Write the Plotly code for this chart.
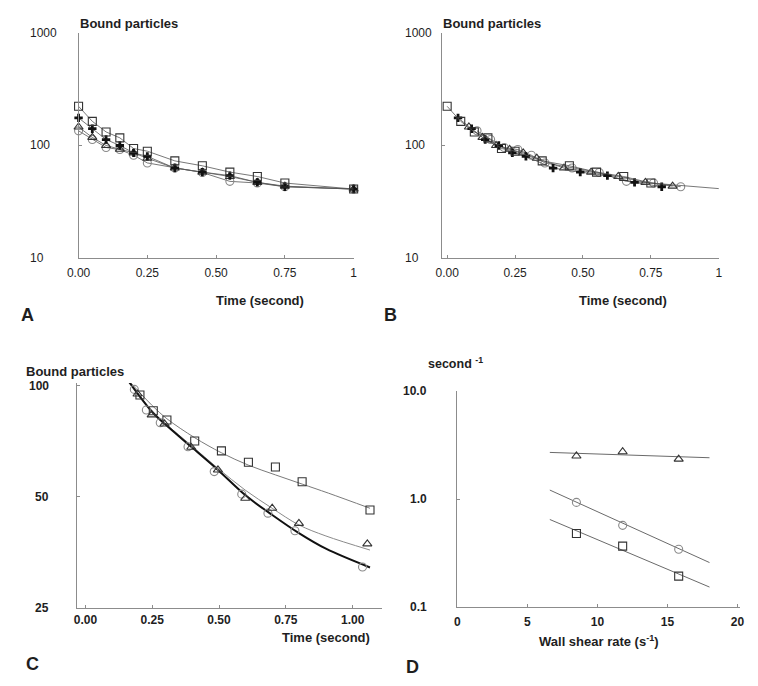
import math
import plotly.graph_objects as go

# ---------------- data ----------------
# Panel A: bound particles vs time (four shear conditions)
a_time = [0.00, 0.05, 0.10, 0.15, 0.20, 0.25, 0.35, 0.45, 0.55, 0.65, 0.75, 1.00]
a_square = [223, 164, 132, 117, 94, 89, 73, 66, 58, 53, 46.4, 41]
a_plus = [176, 141, 113, 100, 86, 80, 63, 58, 54, 47, 43, 41]
a_triangle = [146, 118, 100, 92.5, 86, 77, 63, 58, 53, 47, 43.5, 41]
a_circle = [135, 113, 96, 92, 82, 70, 63, 57.5, 48, 46.4, 43, 41]

# Panel B: time-shifted superposition
b_sq_time = [0.00, 0.05, 0.10, 0.15, 0.20, 0.25, 0.35, 0.45, 0.55, 0.65, 0.75, 1.02]
b_square = [223, 164, 132, 117, 94, 89, 73, 66, 58, 53, 46.4, 41]
b_pl_time = [0.04, 0.09, 0.14, 0.19, 0.24, 0.29, 0.39, 0.49, 0.59, 0.69, 0.79]
b_plus = [176, 141, 113, 100, 86, 80, 63, 58, 54, 47, 43]
b_tr_time = [0.08, 0.13, 0.18, 0.23, 0.28, 0.33, 0.43, 0.53, 0.63, 0.73, 0.83]
b_triangle = [146, 118, 100, 92.5, 86, 77, 63, 58, 53, 47, 43.5]
b_ci_time = [0.11, 0.16, 0.21, 0.26, 0.31, 0.36, 0.46, 0.56, 0.66, 0.76, 0.86]
b_circle = [135, 113, 96, 92, 82, 70, 63, 57.5, 48, 46.4, 43]

# Panel C: measured points and fitted curves
c_sq_time = [0.152, 0.204, 0.254, 0.305, 0.409, 0.509, 0.610, 0.711, 0.811, 1.065]
c_square = [105.3, 94.5, 85.7, 80.9, 70.9, 66.7, 62.1, 60.3, 55.0, 46.1]
c_tr_time = [0.152, 0.195, 0.248, 0.296, 0.396, 0.496, 0.598, 0.699, 0.799, 1.055]
c_triangle = [105.3, 95.1, 83.5, 78.9, 68.2, 59.2, 49.6, 46.6, 42.4, 37.3]
c_ci_time = [0.183, 0.228, 0.280, 0.384, 0.482, 0.585, 0.683, 0.784, 1.037]
c_circle = [97.9, 86.1, 79.5, 68.4, 58.6, 50.9, 45.2, 40.5, 32.3]
c_fit_sq_time = [0.152, 0.250, 0.305, 0.409, 0.509, 0.610, 0.711, 0.811, 0.910, 1.065]
c_fit_square = [105.3, 88.5, 81.5, 72.4, 65.9, 61.0, 57.4, 54.2, 51.2, 46.6]
c_fit_time = [0.152, 0.250, 0.305, 0.396, 0.496, 0.598, 0.699, 0.799, 0.900, 1.065]
c_fit_triangle = [105.3, 85.5, 78.5, 69.0, 59.8, 52.2, 46.6, 42.0, 39.2, 35.9]
c_fit_circle = [105.3, 85.0, 78.0, 68.4, 59.2, 50.6, 44.7, 39.9, 36.2, 32.2]

# Panel D: rate constants vs wall shear rate
d_shear = [8.5, 11.8, 15.8]
d_triangle = [2.5, 2.74, 2.34]
d_circle = [0.93, 0.57, 0.343]
d_square = [0.48, 0.366, 0.193]
d_fit_shear = [6.6, 18.0]
d_fit_triangle = [2.70, 2.41]
d_fit_circle = [1.21, 0.258]
d_fit_square = [0.646, 0.153]

# tick labels
ab_time_ticks = [0, 0.25, 0.5, 0.75, 1]
ab_time_text = ["0.00", "0.25", "0.50", "0.75", "1"]
ab_y_ticks = [1000, 100, 10]
c_time_ticks = [0, 0.25, 0.5, 0.75, 1.0]
c_time_text = ["0.00", "0.25", "0.50", "0.75", "1.00"]
c_y_ticks = [100, 50, 25]
d_x_ticks = [0, 5, 10, 15, 20]
d_y_ticks = [10, 1, 0.1]
d_y_text = ["10.0", "1.0", "0.1"]

# ---------------- styling ----------------
FONT = "Arial, Liberation Sans, sans-serif"
TXT = "#1e1e1e"
AXC = "#8c8c8c"
W, H = 758, 686
TICK = 12


def px(x):
    return x / W


def py(y):
    return 1 - y / H


fig = go.Figure()

MK = {
    "sq": dict(symbol="square-open", size=8, color="#333333", line=dict(width=1.1)),
    "pl": dict(symbol="cross", size=7, color="#111111", line=dict(width=0)),
    "tr": dict(symbol="triangle-up-open", size=8, color="#333333", line=dict(width=1.1)),
    "ci": dict(symbol="circle-open", size=8, color="#8a8a8a", line=dict(width=1.1)),
}


def add(x, y, mk, xa, ya, mode="lines+markers", lc="#555555", lw=0.8):
    fig.add_trace(go.Scatter(
        x=x, y=y, mode=mode, xaxis=xa, yaxis=ya,
        marker=MK[mk] if mk else None,
        line=dict(color=lc, width=lw),
        cliponaxis=False, hoverinfo="skip", showlegend=False))


# A
add(a_time, a_circle, "ci", "x", "y")
add(a_time, a_triangle, "tr", "x", "y")
add(a_time, a_plus, "pl", "x", "y")
add(a_time, a_square, "sq", "x", "y")
# B
add(b_ci_time, b_circle, "ci", "x2", "y2")
add(b_tr_time, b_triangle, "tr", "x2", "y2")
add(b_pl_time, b_plus, "pl", "x2", "y2")
add(b_sq_time, b_square, "sq", "x2", "y2")
# C fits
add(c_fit_sq_time, c_fit_square, None, "x3", "y3", mode="lines", lc="#7a7a7a", lw=1)
add(c_fit_time, c_fit_triangle, None, "x3", "y3", mode="lines", lc="#8a8a8a", lw=1)
add(c_fit_time, c_fit_circle, None, "x3", "y3", mode="lines", lc="#111111", lw=2)
for tr in fig.data[-3:]:
    tr.line.shape = "spline"
# C points
add(c_ci_time, c_circle, "ci", "x3", "y3", mode="markers")
add(c_tr_time, c_triangle, "tr", "x3", "y3", mode="markers")
add(c_sq_time, c_square, "sq", "x3", "y3", mode="markers")
# D
add(d_fit_shear, d_fit_triangle, None, "x4", "y4", mode="lines", lc="#6a6a6a", lw=1)
add(d_fit_shear, d_fit_circle, None, "x4", "y4", mode="lines", lc="#6a6a6a", lw=1)
add(d_fit_shear, d_fit_square, None, "x4", "y4", mode="lines", lc="#6a6a6a", lw=1)
add(d_shear, d_triangle, "tr", "x4", "y4", mode="markers")
add(d_shear, d_circle, "ci", "x4", "y4", mode="markers")
add(d_shear, d_square, "sq", "x4", "y4", mode="markers")


def xaxis(dom, rng, anchor, tv, tt, bold=False, standoff=4):
    return dict(domain=[px(dom[0]), px(dom[1])], range=rng, anchor=anchor,
                showline=True, linecolor=AXC, linewidth=1, showgrid=False,
                zeroline=False, ticks="inside", ticklen=3, tickcolor=AXC,
                tickvals=tv, ticktext=tt, ticklabelstandoff=standoff,
                tickfont=dict(family=FONT, size=TICK, color=TXT,
                              weight="bold" if bold else "normal"))


def yaxis(dom, rng, anchor, tv):
    return dict(domain=[py(dom[1]), py(dom[0])], range=rng, anchor=anchor, type="log",
                showline=True, linecolor=AXC, linewidth=1, showgrid=False,
                zeroline=False, ticks="inside", ticklen=3, tickcolor=AXC,
                tickvals=tv, showticklabels=False)


layout = dict(
    width=W, height=H, margin=dict(l=0, r=0, t=0, b=0),
    paper_bgcolor="white", plot_bgcolor="white", showlegend=False,
    font=dict(family=FONT, color=TXT),
    xaxis=xaxis((68, 349), [0, 1.0], "y", ab_time_ticks, ab_time_text),
    yaxis=yaxis((33, 258), [1, 3], "x", ab_y_ticks),
    xaxis2=xaxis((439, 722), [-0.02, 1.0], "y2", ab_time_ticks, ab_time_text),
    yaxis2=yaxis((33, 258), [1, 3], "x2", ab_y_ticks),
    xaxis3=xaxis((66, 378), [-0.033, 1.11], "y3", c_time_ticks, c_time_text, bold=True, standoff=1),
    yaxis3=yaxis((383, 608), [math.log10(25), 2.0081], "x3", c_y_ticks),
    xaxis4=xaxis((455, 744), [0, 20.2], "y4", d_x_ticks, [str(v) for v in d_x_ticks], bold=True, standoff=4),
    yaxis4=yaxis((391, 607), [-1, 1], "x4", d_y_ticks),
)
fig.update_layout(**layout)

ann = []


def text(x, y, s, size=13, bold=True, xanchor="left", yanchor="middle", xref="paper", yref="paper"):
    ann.append(dict(x=x, y=y, xref=xref, yref=yref, text=s, showarrow=False,
                    xanchor=xanchor, yanchor=yanchor,
                    font=dict(family=FONT, size=size, color=TXT,
                              weight="bold" if bold else "normal")))


# y tick labels (annotations to match the left/right alignment of the original)
for v in ab_y_ticks:
    text(px(16), math.log10(v), str(v), size=TICK, bold=False, yref="y")
    text(px(399), math.log10(v), str(v), size=TICK, bold=False, yref="y2")
for v in c_y_ticks:
    text(px(40), math.log10(v), str(v), size=TICK, bold=True, xanchor="right", yref="y3")
for v, s in zip(d_y_ticks, d_y_text):
    text(px(426), math.log10(v), s, size=TICK, bold=True, xanchor="right", yref="y4")

# axis titles
text(px(67), py(23), "Bound particles")
text(px(438), py(23), "Bound particles")
text(px(12), py(371), "Bound particles")
text(px(253), py(301), "Time (second)", xanchor="center")
text(px(624), py(300), "Time (second)", xanchor="center")
text(px(368), py(637), "Time (second)", xanchor="right")
text(px(423), py(363), "second <sup>-1</sup>", size=12.5)
text(px(600), py(641), "Wall shear rate (s<sup>-1</sup>)", xanchor="center")

# panel letters
text(px(7), py(315), "A", size=18)
text(px(378), py(315), "B", size=18)
text(px(12), py(664), "C", size=18)
text(px(400), py(667), "D", size=18)

fig.update_layout(annotations=ann)
fig.write_html("out.html", config={"displayModeBar": False},
               post_script="document.body.style.margin='0';document.body.style.overflow='hidden';")
